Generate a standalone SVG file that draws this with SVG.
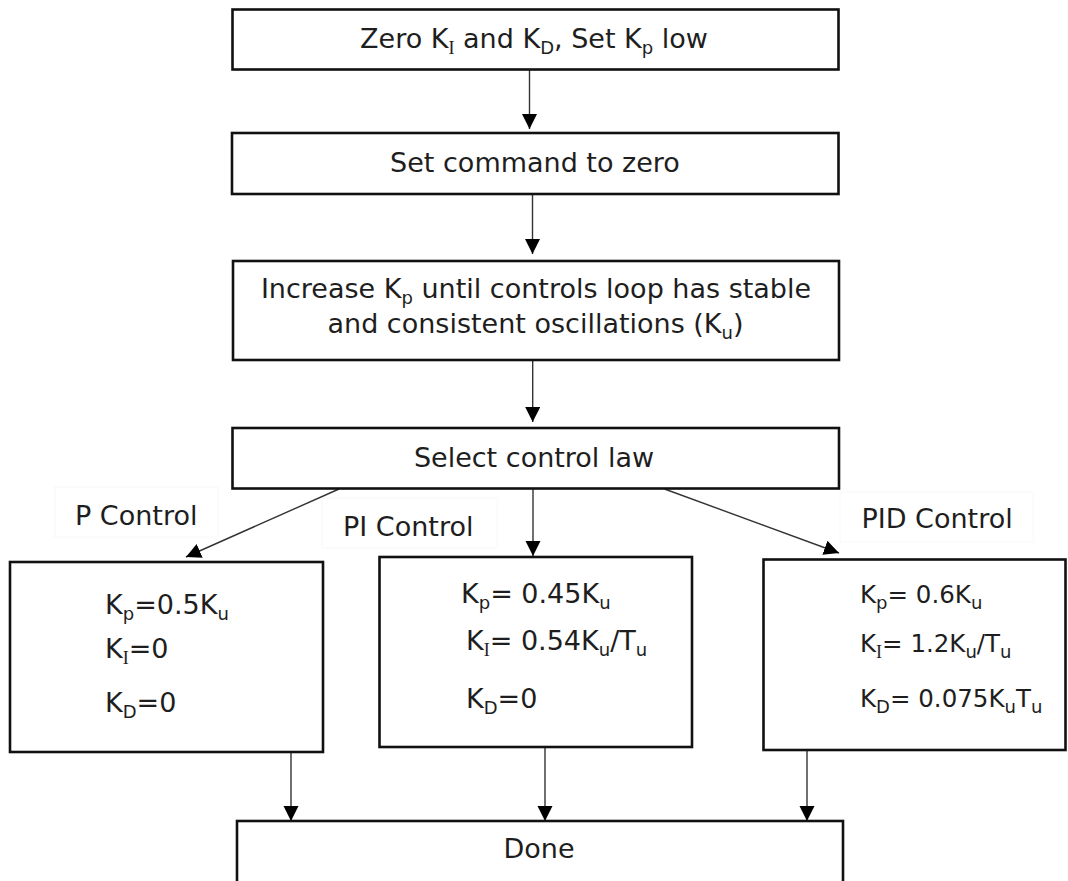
<svg xmlns="http://www.w3.org/2000/svg" width="1068" height="881" viewBox="0 0 1068 881">
<style>
.box{fill:#fff;stroke:#111;stroke-width:2.6}
.lbl{fill:#fff;stroke:#f8f8f8;stroke-width:1}
.t{font-family:"DejaVu Sans",Verdana,sans-serif;font-size:27px;fill:#1e1e1e}
.s{font-size:18px}
.sr{font-family:"Liberation Serif","DejaVu Serif",serif;font-size:18px}
.m{text-anchor:middle}
.pid{font-size:24.5px}
.c{stroke:#333;stroke-width:1.4;fill:none;marker-end:url(#ah)}
</style>
<defs>
<marker id="ah" markerUnits="userSpaceOnUse" markerWidth="16" markerHeight="16" refX="15" refY="7.5" orient="auto">
<path d="M0,0 L15,7.5 L0,15 Z" fill="#000"/>
</marker>
</defs>
<rect width="1068" height="881" fill="#fff"/>
<g id="lp">
<rect class="lbl" x="55" y="487" width="163" height="50"/>
<text class="t" x="75" y="525">P Control</text>
</g>
<g id="lpi">
<rect class="lbl" x="322" y="498" width="175" height="50"/>
<text class="t" x="343" y="536">PI Control</text>
</g>
<g id="lpid">
<rect class="lbl" x="840" y="492" width="193" height="50"/>
<text class="t" x="861.5" y="528">PID Control</text>
</g>
<g id="connectors">
<line class="c" x1="529.5" y1="70" x2="529.5" y2="129"/>
<line class="c" x1="532.5" y1="194" x2="532.5" y2="254"/>
<line class="c" x1="532.7" y1="360" x2="532.7" y2="422"/>
<line class="c" x1="339" y1="489" x2="186" y2="557"/>
<line class="c" x1="533" y1="489" x2="533" y2="556"/>
<line class="c" x1="664.6" y1="489" x2="839" y2="553"/>
<line class="c" x1="291" y1="752" x2="291" y2="821"/>
<line class="c" x1="545" y1="747" x2="545" y2="821"/>
<line class="c" x1="807" y1="750" x2="807" y2="821"/>
</g>
<g id="n1">
<rect class="box" x="232.5" y="9.5" width="606" height="60"/>
<text class="t m" x="534" y="48">Zero K<tspan class="sr" dy="6">I</tspan><tspan dy="-6"> and K</tspan><tspan class="s" dy="6">D</tspan><tspan dy="-6">, Set K</tspan><tspan class="s" dy="6">p</tspan><tspan dy="-6"> low</tspan></text>
</g>
<g id="n2">
<rect class="box" x="232" y="133" width="606.5" height="61"/>
<text class="t m" x="535" y="172">Set command to zero</text>
</g>
<g id="n3">
<rect class="box" x="233" y="261" width="606" height="99"/>
<text class="t m" x="536" y="298">Increase K<tspan class="s" dy="6">p</tspan><tspan dy="-6"> until controls loop has stable</tspan></text>
<text class="t m" x="535.5" y="333">and consistent oscillations (K<tspan class="s" dy="6">u</tspan><tspan dy="-6">)</tspan></text>
</g>
<g id="n4">
<rect class="box" x="232.5" y="428" width="606.5" height="60.5"/>
<text class="t m" x="534" y="467">Select control law</text>
</g>
<g id="np">
<rect class="box" x="10" y="562" width="313" height="190"/>
<text class="t" x="105" y="614">K<tspan class="s" dy="6">p</tspan><tspan dy="-6">=0.5K</tspan><tspan class="s" dy="6">u</tspan></text>
<text class="t" x="105" y="658">K<tspan class="sr" dy="6">I</tspan><tspan dy="-6">=0</tspan></text>
<text class="t" x="105" y="712">K<tspan class="s" dy="6">D</tspan><tspan dy="-6">=0</tspan></text>
</g>
<g id="npi">
<rect class="box" x="379.5" y="557" width="312.5" height="190"/>
<text class="t" x="461" y="603">K<tspan class="s" dy="6">p</tspan><tspan dy="-6">= 0.45K</tspan><tspan class="s" dy="6">u</tspan></text>
<text class="t" x="466" y="650">K<tspan class="sr" dy="6">I</tspan><tspan dy="-6">= 0.54K</tspan><tspan class="s" dy="6">u</tspan><tspan dy="-6">/T</tspan><tspan class="s" dy="6">u</tspan></text>
<text class="t" x="466" y="708">K<tspan class="s" dy="6">D</tspan><tspan dy="-6">=0</tspan></text>
</g>
<g id="npid">
<rect class="box" x="763.5" y="559.5" width="302" height="190.5"/>
<text class="t pid" x="860" y="603">K<tspan class="s" dy="6">p</tspan><tspan dy="-6">= 0.6K</tspan><tspan class="s" dy="6">u</tspan></text>
<text class="t pid" x="860" y="652">K<tspan class="sr" dy="6">I</tspan><tspan dy="-6">= 1.2K</tspan><tspan class="s" dy="6">u</tspan><tspan dy="-6">/T</tspan><tspan class="s" dy="6">u</tspan></text>
<text class="t pid" x="860" y="707">K<tspan class="s" dy="6">D</tspan><tspan dy="-6">= 0.075K</tspan><tspan class="s" dy="6">u</tspan><tspan dy="-6">T</tspan><tspan class="s" dy="6">u</tspan></text>
</g>
<g id="ndone">
<rect class="box" x="237" y="821" width="606" height="90"/>
<text class="t m" x="539" y="858">Done</text>
</g>
</svg>
